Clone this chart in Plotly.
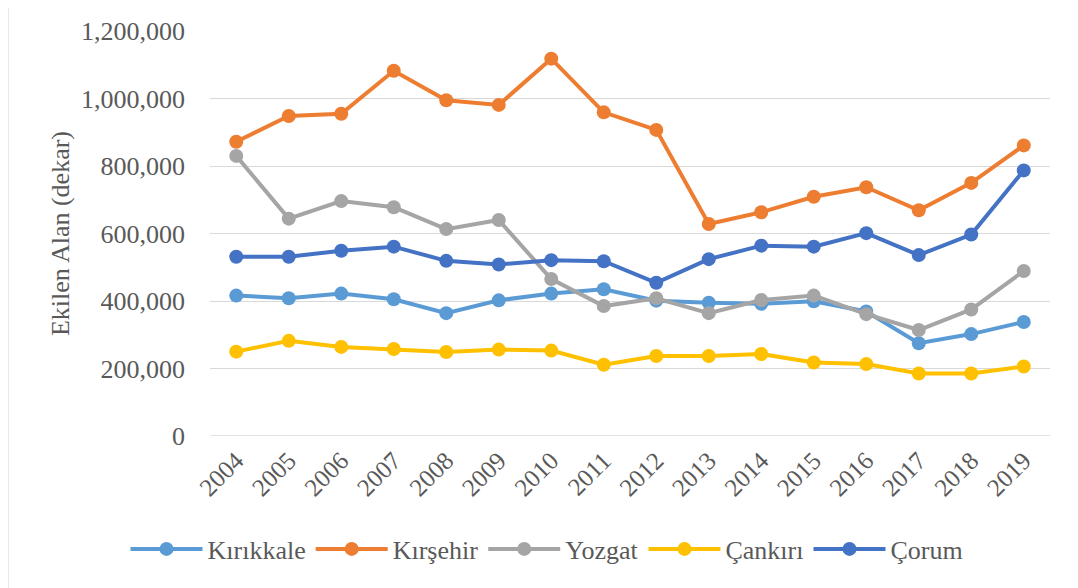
import plotly.graph_objects as go

years = [str(y) for y in range(2004, 2020)]
kirikkale = [416000, 408000, 422000, 405000, 364000, 402000, 422000, 435000, 401000, 395000, 392000, 399000, 369000, 275000, 302000, 338000]
kirsehir = [872000, 948000, 955000, 1082000, 995000, 981000, 1118000, 959000, 907000, 628000, 663000, 709000, 737000, 669000, 750000, 861000]
yozgat = [830000, 644000, 696000, 678000, 613000, 640000, 465000, 385000, 408000, 364000, 403000, 416000, 361000, 314000, 375000, 489000]
cankiri = [250000, 282000, 264000, 258000, 249000, 256000, 253000, 211000, 237000, 237000, 243000, 218000, 213000, 185000, 185000, 206000]
corum = [531000, 531000, 549000, 561000, 519000, 508000, 521000, 518000, 454000, 524000, 564000, 561000, 601000, 536000, 597000, 787000]

series = [
    ("Kırıkkale", kirikkale, "#5B9BD5"),
    ("Kırşehir", kirsehir, "#ED7D31"),
    ("Yozgat", yozgat, "#A5A5A5"),
    ("Çankırı", cankiri, "#FFC000"),
    ("Çorum", corum, "#4472C4"),
]

font_family = "Liberation Serif"
text_color = "#595959"
fig = go.Figure()
for name, vals, color in series:
    fig.add_trace(go.Scatter(
        x=years, y=vals, name=name, mode="lines+markers",
        line=dict(color=color, width=4),
        marker=dict(color=color, size=14),
    ))

fig.update_layout(
    width=1078, height=588,
    margin=dict(l=202, r=36, t=23, b=160),
    paper_bgcolor="white", plot_bgcolor="white",
    font=dict(family=font_family, size=26, color=text_color),
    showlegend=True,
    legend=dict(orientation="h", x=539 / 1078, xanchor="center", xref="container",
                y=1 - 541 / 588, yanchor="middle", yref="container",
                font=dict(size=26, color=text_color),
                itemwidth=72, traceorder="normal", tracegroupgap=0),
)
fig.update_xaxes(
    type="category", range=[-0.5, 15.5], tickangle=-45, automargin=False,
    showgrid=False, showline=False, zeroline=False, ticks="",
    tickfont=dict(size=25, color=text_color), ticklabelstandoff=4,
)
fig.update_yaxes(
    range=[0, 1200000], dtick=200000, tickformat=",d", automargin=False,
    showgrid=True, gridcolor="#D9D9D9", gridwidth=1.3, zeroline=False, showline=False,
    tickfont=dict(size=26, color=text_color), ticklabelstandoff=24,
    title=dict(text="Ekilen Alan (dekar)", font=dict(size=26, color=text_color), standoff=3),
)
fig.add_shape(type="line", xref="paper", yref="y", x0=0, x1=1, y0=0, y1=0,
              line=dict(color="#D9D9D9", width=1.3), layer="below")
fig.add_shape(type="line", xref="paper", yref="paper", x0=-202/840, x1=-202/840,
              y0=-170/405, y1=1+30/405, line=dict(color="#D9D9D9", width=1.2))

fig.write_html("out.html")
